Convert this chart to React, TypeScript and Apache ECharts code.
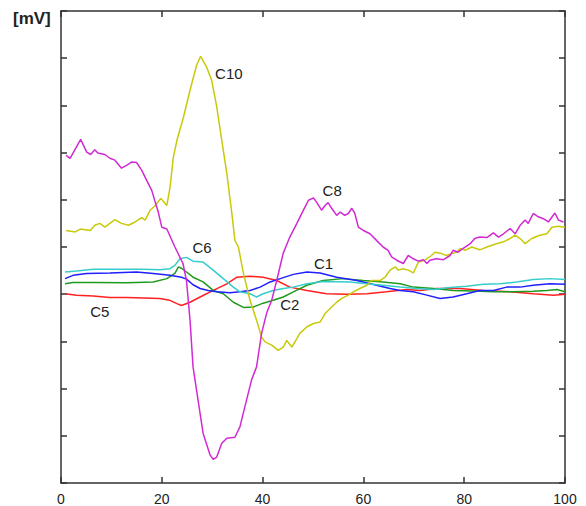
import React, { useEffect, useRef } from "react";
import * as echarts from "echarts";

type P = [number, number];

const xTicks = [0, 20, 40, 60, 80, 100];

const c8: P[] = [
  [1.0, 1.94], [1.8, 1.88], [3.9, 2.28], [5.1, 2.01], [5.9, 1.96], [6.7, 2.06], [7.3, 1.99], [8.7, 1.96],
  [9.7, 1.88], [10.7, 1.84], [12.0, 1.67], [13.0, 1.73], [14.0, 1.8], [15.0, 1.79], [16.0, 1.63], [17.0, 1.41],
  [18.0, 1.2], [18.7, 0.95], [19.3, 0.74], [20.0, 0.42], [21.0, 0.38], [22.6, 0], [24.2, -0.35], [24.9, -0.71],
  [25.6, -1.55], [26.2, -2.54], [27.2, -3.25], [28.2, -3.95], [29.6, -4.41], [30.2, -4.5], [30.9, -4.45],
  [31.9, -4.16], [32.9, -4.05], [34.5, -4.03], [35.5, -3.81], [36.8, -3.25], [37.8, -2.82], [38.8, -2.54],
  [39.8, -1.83], [40.8, -1.4], [41.8, -1.13], [42.8, -0.71], [44.1, -0.13], [45.4, 0.21], [46.8, 0.5],
  [48.1, 0.78], [49.1, 0.99], [50.1, 1.04], [50.7, 0.95], [51.7, 0.78], [52.4, 0.88], [53.0, 0.94],
  [53.7, 0.82], [54.7, 0.67], [55.4, 0.74], [56.3, 0.67], [57.0, 0.71], [57.7, 0.82], [58.3, 0.71],
  [59.0, 0.42], [60.0, 0.35], [61.3, 0.28], [62.6, 0.14], [63.9, 0], [64.9, -0.07], [65.6, -0.21],
  [66.6, -0.28], [67.9, -0.35], [68.9, -0.18], [69.9, -0.25], [70.9, -0.3], [71.9, -0.27], [72.6, -0.35],
  [73.2, -0.28], [74.5, -0.25], [75.9, -0.27], [77.2, -0.18], [77.8, -0.07], [78.8, -0.11], [79.8, -0.03],
  [81.2, 0.07], [82.1, 0.18], [83.1, 0.21], [84.5, 0.2], [85.8, 0.3], [86.8, 0.21], [87.8, 0.28],
  [89.1, 0.39], [90.1, 0.28], [91.1, 0.46], [92.1, 0.57], [92.7, 0.5], [93.7, 0.71], [94.7, 0.64],
  [95.7, 0.6], [96.7, 0.53], [98.0, 0.72], [98.7, 0.57], [99.7, 0.53],
];

const c10: P[] = [
  [1.0, 0.35], [2.8, 0.32], [3.8, 0.38], [5.8, 0.35], [6.7, 0.46], [7.7, 0.5], [8.7, 0.42], [10.7, 0.58],
  [12.0, 0.5], [13.4, 0.46], [14.7, 0.53], [16.0, 0.62], [16.7, 0.57], [17.7, 0.78], [18.7, 0.88],
  [19.8, 1.03], [21.0, 0.88], [21.6, 1.24], [22.3, 1.91], [23.0, 2.26], [24.3, 2.75], [25.6, 3.32],
  [26.9, 3.85], [27.7, 4.04], [28.9, 3.81], [29.9, 3.53], [30.9, 2.97], [31.9, 2.26], [32.9, 1.56],
  [33.9, 0.71], [34.5, 0.14], [35.2, 0], [36.2, -0.56], [37.5, -1.13], [38.8, -1.55], [39.8, -1.91],
  [40.5, -2.01], [41.8, -2.08], [43.1, -2.19], [44.1, -2.12], [44.8, -1.98], [45.8, -2.12], [46.8, -1.94],
  [47.4, -1.83], [48.8, -1.69], [50.1, -1.62], [51.4, -1.59], [52.4, -1.41], [53.7, -1.27], [54.7, -1.17],
  [55.7, -1.09], [57.0, -1.02], [58.0, -0.95], [59.3, -0.88], [60.7, -0.81], [61.6, -0.71], [63.3, -0.71],
  [64.3, -0.64], [65.3, -0.49], [66.3, -0.42], [66.9, -0.49], [67.9, -0.46], [68.9, -0.49], [69.9, -0.55],
  [70.9, -0.32], [72.2, -0.28], [73.5, -0.18], [74.2, -0.11], [75.5, -0.14], [76.5, -0.18], [77.5, -0.14],
  [78.5, -0.11], [79.2, -0.03], [80.2, -0.07], [81.5, 0], [83.1, -0.06], [84.5, 0], [86.4, 0.07],
  [87.8, 0.11], [89.1, 0.18], [90.1, 0.25], [91.1, 0.18], [92.1, 0.07], [93.4, 0.18], [95.0, 0.25],
  [96.4, 0.28], [97.4, 0.42], [98.7, 0.44], [100, 0.42],
];

const c6: P[] = [
  [0.8, -0.53], [3.1, -0.51], [6.4, -0.47], [9.7, -0.47], [13.0, -0.47], [16.3, -0.47], [19.6, -0.48],
  [21.6, -0.46], [22.6, -0.39], [23.6, -0.25], [24.9, -0.22], [26.2, -0.3], [28.2, -0.32], [30.2, -0.49],
  [32.2, -0.67], [34.2, -0.85], [35.5, -0.95], [37.5, -0.99], [38.8, -1.06], [40.1, -0.99], [42.1, -0.92],
  [44.1, -0.88], [46.1, -0.85], [48.8, -0.78], [52.0, -0.73], [57.3, -0.74], [60.7, -0.78], [63.9, -0.81],
  [67.3, -0.85], [70.6, -0.88], [73.9, -0.9], [77.2, -0.86], [80.5, -0.83], [83.8, -0.79], [87.1, -0.78],
  [90.4, -0.74], [93.7, -0.69], [97.0, -0.67], [100, -0.69],
];

const c1: P[] = [
  [0.8, -0.67], [2.4, -0.6], [5.1, -0.56], [9.7, -0.55], [15.0, -0.53], [18.3, -0.56], [21.6, -0.6],
  [23.9, -0.64], [24.9, -0.68], [26.2, -0.8], [27.6, -0.88], [29.2, -0.92], [30.9, -0.95], [33.5, -0.97],
  [35.5, -0.95], [37.5, -0.92], [39.5, -0.85], [41.5, -0.74], [43.5, -0.67], [46.1, -0.58], [48.8, -0.53],
  [51.4, -0.55], [54.7, -0.64], [58.7, -0.71], [62.6, -0.81], [65.3, -0.88], [67.3, -0.92], [69.9, -0.95],
  [72.6, -1.02], [75.2, -1.09], [77.8, -1.06], [80.5, -0.99], [83.1, -0.92], [85.8, -0.92], [88.4, -0.85],
  [91.1, -0.85], [93.7, -0.81], [97.0, -0.78], [100, -0.79],
];

const c2: P[] = [
  [0.8, -0.78], [2.4, -0.75], [6.4, -0.75], [13.0, -0.76], [18.3, -0.74], [21.0, -0.67], [22.6, -0.56],
  [23.3, -0.42], [23.9, -0.45], [24.9, -0.53], [26.2, -0.64], [28.2, -0.74], [30.2, -0.92], [32.2, -0.99],
  [34.2, -1.17], [36.2, -1.28], [38.2, -1.27], [40.1, -1.19], [42.1, -1.13], [44.1, -1.06], [46.1, -0.95],
  [48.8, -0.81], [52.0, -0.71], [56.0, -0.67], [60.0, -0.71], [63.9, -0.74], [67.3, -0.78], [69.9, -0.85],
  [73.9, -0.88], [77.8, -0.92], [81.8, -0.93], [85.8, -0.95], [89.7, -0.95], [93.7, -0.94], [96.4, -0.92],
  [98.4, -0.9], [100, -0.95],
];

const c5: P[] = [
  [0.8, -0.99], [3.1, -1.02], [6.4, -1.04], [9.7, -1.07], [13.0, -1.07], [16.3, -1.08], [19.6, -1.09],
  [21.6, -1.13], [23.0, -1.2], [23.9, -1.24], [25.6, -1.17], [27.6, -1.06], [30.2, -0.92], [32.9, -0.78],
  [34.9, -0.64], [37.5, -0.62], [40.1, -0.64], [42.8, -0.71], [45.4, -0.85], [48.8, -0.92], [52.7, -0.99],
  [56.7, -1.0], [60.7, -0.99], [64.6, -0.95], [68.6, -0.9], [71.2, -0.92], [74.5, -0.88], [79.2, -0.88],
  [83.8, -0.92], [89.1, -0.95], [93.7, -0.99], [97.7, -1.02], [100, -1.0],
];

const seriesNames = ["C8", "C10", "C6", "C1", "C2", "C5"];
const seriesData = [c8, c10, c6, c1, c2, c5];
const seriesColors = ["#d22ad2", "#c9c90a", "#36cccc", "#1f1fff", "#1f9a1f", "#ff2020"];
// label anchor positions in data units
const labelPos: P[] = [
  [53.8, 1.19], [33.3, 3.68], [28.0, -0.01], [52.1, -0.34], [45.4, -1.22], [7.7, -1.37],
];

export default function App() {
  const ref = useRef<HTMLDivElement>(null);
  useEffect(() => {
    if (!ref.current) return;
    const chart = echarts.init(ref.current, null, { renderer: "svg" });
    const axisLine = { show: true, onZero: false, lineStyle: { color: "#333", width: 1.5 } };
    const axisTick = { show: true, inside: true, length: 6, lineStyle: { color: "#333", width: 1.5 } };
    const font = "Liberation Sans, Arial, sans-serif";
    const xBase = {
      type: "value" as const,
      min: 0,
      max: 100,
      interval: 20,
      splitLine: { show: false },
      axisLine,
      axisTick,
    };
    const yBase = {
      type: "value" as const,
      min: -5,
      max: 5,
      interval: 1,
      splitLine: { show: false },
      axisLine,
      axisTick,
      axisLabel: { show: false },
    };
    chart.setOption({
      animation: false,
      backgroundColor: "#fff",
      grid: { left: 61, right: 21, top: 11, bottom: 23, containLabel: false },
      xAxis: [
        {
          ...xBase,
          position: "bottom",
          axisLabel: {
            show: true,
            color: "#222",
            fontSize: 14,
            fontFamily: font,
            margin: 9,
            formatter: (v: number) => (xTicks.includes(v) ? String(v) : ""),
          },
        },
        { ...xBase, position: "top", axisLabel: { show: false } },
      ],
      yAxis: [
        { ...yBase, position: "left" },
        { ...yBase, position: "right" },
      ],
      graphic: [
        {
          type: "text",
          left: 13,
          top: 10,
          style: { text: "[mV]", font: `bold 17px ${font}`, fill: "#222" },
        },
      ],
      series: seriesData.map((d, i) => ({
        type: "line",
        name: seriesNames[i],
        data: d,
        showSymbol: false,
        symbol: "none",
        lineStyle: { color: seriesColors[i], width: 1.5 },
        z: 10 - i,
        markPoint: {
          symbol: "circle",
          symbolSize: 0,
          silent: true,
          data: [
            {
              coord: labelPos[i],
              label: {
                show: true,
                formatter: seriesNames[i],
                color: "#222",
                fontSize: 15,
                fontFamily: font,
                position: "inside",
              },
            },
          ],
        },
      })),
    });
    return () => chart.dispose();
  }, []);
  return (
    <div
      ref={ref}
      style={{ position: "fixed", left: 0, top: 0, width: 586, height: 506, background: "#fff" }}
    />
  );
}
